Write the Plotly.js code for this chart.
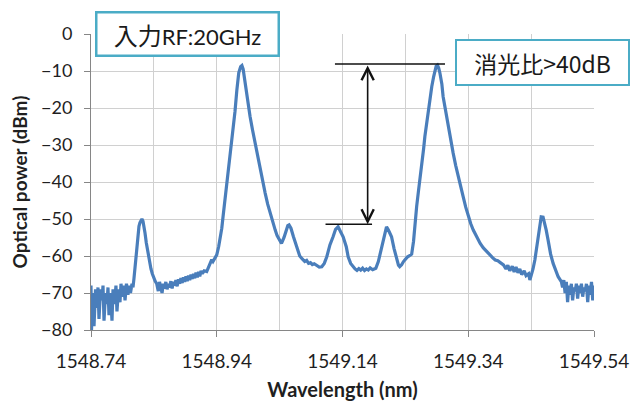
<!DOCTYPE html>
<html>
<head>
<meta charset="utf-8">
<script src="https://cdn.plot.ly/plotly-3.0.1.min.js"></script>
<style>
html,body{margin:0;padding:0;background:#fff;}
#chart{width:644px;height:403px;}
</style>
</head>
<body>
<div id="chart"></div>
<script>
// Wavelength (nm)
const wavelength = [
1548.7400,1548.7408,1548.7432,1548.7448,1548.7472,1548.7495,1548.7511,1548.7527,1548.7551,1548.7575,
1548.7591,1548.7607,1548.7630,1548.7654,1548.7670,1548.7686,1548.7710,1548.7734,1548.7750,1548.7773,
1548.7797,1548.7813,1548.7837,1548.7861,1548.7877,1548.7901,1548.7925,1548.7941,1548.7964,1548.7988,
1548.8004,1548.8028,1548.8052,1548.8068,
1548.8084,1548.8100,1548.8116,1548.8132,1548.8147,1548.8163,1548.8179,1548.8195,1548.8210,1548.8227,
1548.8243,1548.8259,1548.8280,1548.8311,1548.8335,1548.8354,1548.8375,1548.8395,1548.8420,1548.8445,
1548.847,1548.849,1548.851,1548.853,1548.855,1548.857,1548.859,1548.861,1548.863,1548.865,
1548.867,1548.869,1548.871,1548.873,1548.875,1548.877,1548.879,1548.881,1548.883,1548.885,
1548.887,1548.889,1548.891,1548.893,1548.895,1548.897,1548.899,1548.901,1548.903,1548.905,
1548.907,1548.909,1548.911,1548.913,1548.915,1548.917,
1548.920,1548.924,1548.927,1548.930,1548.932,1548.934,1548.937,1548.940,1548.943,1548.945,
1548.948,1548.950,1548.953,1548.956,1548.958,1548.961,1548.964,1548.966,1548.969,1548.972,
1548.975,1548.978,1548.980,1548.982,1548.985,1548.989,1548.993,1548.997,1549.001,1549.005,
1549.009,1549.013,1549.017,1549.021,1549.025,1549.029,1549.033,1549.036,1549.039,1549.043,
1549.047,1549.050,1549.053,1549.055,1549.058,1549.062,1549.067,1549.072,1549.076,1549.080,
1549.083,1549.086,1549.089,1549.092,1549.095,1549.099,1549.103,1549.107,1549.111,1549.115,
1549.120,1549.125,1549.129,1549.133,1549.136,1549.141,1549.146,1549.149,1549.153,1549.157,
1549.160,1549.163,1549.166,1549.169,1549.172,1549.175,1549.178,1549.181,1549.184,1549.188,
1549.191,1549.193,1549.197,1549.201,1549.205,1549.208,1549.210,1549.213,1549.218,1549.222,
1549.226,1549.229,1549.231,1549.234,1549.237,1549.240,1549.243,1549.246,1549.250,1549.253,
1549.255,1549.258,1549.261,1549.264,1549.266,1549.269,1549.271,1549.274,1549.276,1549.279,
1549.282,1549.285,1549.287,1549.289,1549.291,1549.293,1549.295,1549.298,1549.300,1549.304,
1549.308,1549.312,1549.316,1549.320,1549.324,1549.328,1549.332,1549.336,1549.340,1549.344,
1549.348,1549.353,1549.359,1549.364,1549.369,1549.375,1549.379,1549.383,1549.387,1549.391,
1549.396,
1549.400,1549.403,1549.406,1549.410,1549.413,1549.416,1549.419,1549.422,1549.425,1549.429,
1549.432,1549.436,1549.438,1549.441,1549.443,1549.446,1549.449,1549.451,1549.454,1549.456,
1549.459,1549.461,1549.464,1549.467,1549.471,1549.475,1549.479,1549.483,1549.488,
1549.490,1549.492,1549.494,1549.496,1549.498,1549.500,1549.502,1549.504,1549.506,1549.508,
1549.510,1549.512,1549.514,1549.516,1549.518,1549.520,1549.522,1549.524,1549.526,1549.528,
1549.530,1549.532,1549.534,1549.536,1549.538,1549.540
];
// Optical power (dBm)
const power = [
-68,-80,-70,-79,-69,-74,-68.5,-77,-69,-72,
-68,-77.5,-70,-73,-68.5,-76,-70,-77.5,-69,-73,
-68,-75,-69,-72.5,-67.5,-71,-68,-72,-67.5,-70.5,
-68,-70,-67.5,-68.5,
-66,-63,-60,-57,-54,-52,-51,-50.2,-50,-50.6,
-52,-53.8,-56.5,-60,-62,-63.5,-64.8,-65.8,-66.8,-67.5,
-69.5,-67,-68.5,-70,-67.5,-68.8,-67,-69,-67.5,-68.5,
-66.8,-68.8,-67,-68,-66.5,-68.2,-66.3,-67.5,-66,-67.3,
-65.8,-67,-65.5,-66.8,-65.3,-66.5,-65,-66.2,-64.8,-66,
-64.5,-65.8,-64.3,-65.5,-64,-64.8,
-64,-64.2,-63,-62,-61,-61.5,-60.5,-59.7,-57.5,-55.7,
-52.5,-49.4,-45,-40.4,-37,-34,-30,-26.8,-21,-15.1,
-10.5,-8.8,-8.5,-9.5,-13.3,-18,-22.3,-26,-29.5,-33,
-36.8,-40,-43,-46,-48.5,-51,-53,-54.5,-55.5,-56.6,
-55,-53,-51.8,-51.6,-52.5,-54.8,-57.5,-60,-60.8,-61.5,
-61.2,-62,-61.8,-62.3,-62.1,-62.6,-63,-62.9,-62,-60.2,
-57,-54.8,-52.8,-52.1,-53,-54.8,-57.5,-60.2,-62,-63,
-63.5,-63.9,-63.4,-63.8,-63.3,-63.9,-63.5,-63.8,-63.2,-63.7,
-63.4,-63.3,-61.5,-58.4,-55,-52.8,-52.1,-53,-54.8,-58,
-61,-62.5,-62.9,-62.4,-61.5,-60.8,-60.3,-60,-59.5,-56,
-51.2,-46.5,-42.2,-38.5,-34.9,-31,-27.7,-24,-20.5,-17,
-14.2,-11.5,-9.7,-8.7,-8.4,-9.2,-10.6,-13.5,-16.9,-21,
-25,-28.8,-32.2,-35.5,-38.6,-41.5,-44,-46.8,-49.4,-51.3,
-53,-54.8,-56.6,-57.8,-58.8,-60,-60.5,-61.1,-61.3,-61.8,
-62.4,
-63.5,-62.5,-64,-62.8,-64.3,-63,-64.5,-63.5,-65,-64,
-65.3,-64.8,-66.5,-65,-63.5,-61,-57.5,-53.9,-50.8,-49.4,
-49.5,-50.8,-53,-55.7,-59.5,-62,-64,-65.6,-66.9,
-68.5,-66.5,-70,-67,-72.5,-68,-70.5,-67.5,-72,-68.5,
-69.5,-67.5,-71.5,-68,-70,-67.5,-71,-68.5,-69.5,-67.5,
-72.5,-68,-70.5,-67,-72,-68
];

const xTickVals = [1548.74, 1548.94, 1549.14, 1549.34, 1549.54];
const xTickText = ["1548.74", "1548.94", "1549.14", "1549.34", "1549.54"];
const xMinorVals = [1548.84, 1549.04, 1549.24, 1549.44];
const yTickVals = [0, -10, -20, -30, -40, -50, -60, -70, -80];

// Extinction-ratio marker (data units)
const topLineX = [1549.128, 1549.303];
const topLineY = -8.1;
const botLineX = [1549.113, 1549.187];
const botLineY = -51.4;
const arrowX = 1549.180;

const FONT = "Lato, 'Noto Sans', sans-serif";
const CJK = "'Noto Sans CJK JP', sans-serif";

const trace = {
  x: wavelength, y: power, type: 'scatter', mode: 'lines',
  line: {color: '#4a7ebb', width: 3.2},
  hoverinfo: 'skip'
};

const layout = {
  width: 644, height: 403,
  margin: {l: 91, r: 50, t: 34, b: 73},
  paper_bgcolor: '#ffffff', plot_bgcolor: '#ffffff',
  showlegend: false,
  font: {family: FONT, color: '#1f1f1f'},
  xaxis: {
    range: [1548.74, 1549.54],
    tickmode: 'array', tickvals: xTickVals, ticktext: xTickText,
    ticks: 'outside', ticklen: 6, tickcolor: '#868686', tickwidth: 1,
    showline: true, linecolor: '#868686', linewidth: 1,
    showgrid: true, gridcolor: '#d0d0d0', gridwidth: 1,
    zeroline: false,
    minor: {tickmode: 'array', tickvals: xMinorVals, showgrid: true, gridcolor: '#d0d0d0', gridwidth: 1, ticks: ''},
    tickfont: {family: FONT, size: 19, color: '#1f1f1f'},
    ticklabelstandoff: 8,
    title: {text: 'Wavelength (nm)', font: {family: FONT, size: 20, color: '#1f1f1f', weight: 'bold'}, standoff: 12},
    automargin: false
  },
  yaxis: {
    range: [-80, 0],
    tickmode: 'array', tickvals: yTickVals,
    ticks: 'outside', ticklen: 6, tickcolor: '#868686', tickwidth: 1,
    showline: true, linecolor: '#868686', linewidth: 1,
    showgrid: true, gridcolor: '#d0d0d0', gridwidth: 1,
    zeroline: false,
    tickfont: {family: FONT, size: 18, color: '#1f1f1f'},
    ticklabelstandoff: 8,
    title: {text: 'Optical power (dBm)', font: {family: FONT, size: 19, color: '#1f1f1f', weight: 'bold'}, standoff: 8},
    automargin: false
  },
  shapes: [
    {type: 'line', xref: 'x', yref: 'y', x0: topLineX[0], x1: topLineX[1], y0: topLineY, y1: topLineY, line: {color: '#111', width: 1.6}},
    {type: 'line', xref: 'x', yref: 'y', x0: botLineX[0], x1: botLineX[1], y0: botLineY, y1: botLineY, line: {color: '#111', width: 1.6}}
  ],
  annotations: [
    {
      xref: 'x', yref: 'y', axref: 'x', ayref: 'y',
      x: arrowX, y: botLineY, ax: arrowX, ay: topLineY,
      text: '', showarrow: true, arrowside: 'end+start',
      arrowhead: 5, startarrowhead: 5, arrowsize: 1.5, startarrowsize: 1.5, arrowwidth: 1.6, arrowcolor: '#111'
    },
    {
      xref: 'paper', yref: 'paper', x: 0.1918, y: 1.001, xanchor: 'center', yanchor: 'middle',
      text: '<span style="font-family:\'Noto Sans CJK JP\';font-size:24px">入力</span>RF:20GHz',
      font: {family: FONT, size: 22, color: '#1a1a1a'},
      showarrow: false, bgcolor: '#ffffff', bordercolor: '#4bacc6', borderwidth: 2.5, borderpad: 0,
      width: 180, height: 41, align: 'center', valign: 'middle'
    },
    {
      xref: 'paper', yref: 'paper', x: 0.8976, y: 0.903, xanchor: 'center', yanchor: 'middle',
      text: '消光比>40dB',
      font: {family: CJK, size: 23, color: '#1a1a1a'},
      showarrow: false, bgcolor: '#ffffff', bordercolor: '#4bacc6', borderwidth: 2, borderpad: 0,
      width: 171, height: 43, align: 'center', valign: 'middle'
    }
  ]
};

Plotly.newPlot('chart', [trace], layout, {staticPlot: true, displayModeBar: false});
</script>
</body>
</html>
